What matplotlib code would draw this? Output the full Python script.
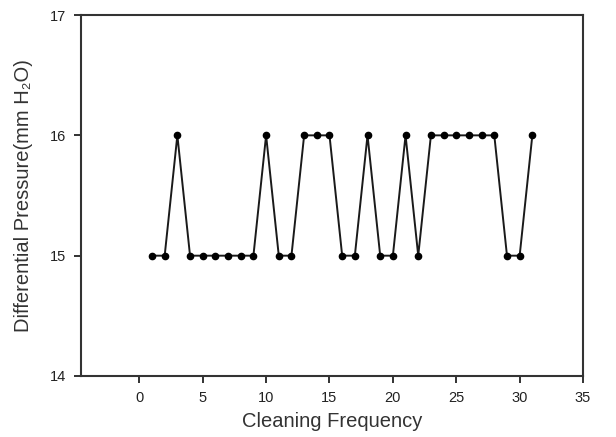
import matplotlib
matplotlib.use("Agg")
import matplotlib.pyplot as plt

# cleaning cycle number vs. differential pressure
cycles = list(range(1, 32))
pressure = [15, 15, 16, 15, 15, 15, 15, 15, 15, 16,
            15, 15, 16, 16, 16, 15, 15, 16, 15, 15,
            16, 15, 16, 16, 16, 16, 16, 16, 15, 15, 16]

x_ticks = [0, 5, 10, 15, 20, 25, 30, 35]
y_ticks = [14, 15, 16, 17]

plt.rcParams["font.family"] = ["Liberation Sans", "DejaVu Sans"]

fig = plt.figure(figsize=(6.16, 4.37), dpi=100)
ax = fig.add_axes([0.1315, 0.1396, 0.815, 0.826])

ax.plot(cycles, pressure, color="#1a1a1a", linewidth=1.4,
        marker="o", markersize=4.5, markerfacecolor="black",
        markeredgecolor="black")

ax.set_xlim(-4.6, 35)
ax.set_ylim(14, 17)
ax.set_xticks(x_ticks)
ax.set_yticks(y_ticks)
ax.tick_params(axis="both", direction="out", length=5, width=1.3,
               colors="#222222", pad=6, labelsize=10.5)

for sp in ax.spines.values():
    sp.set_linewidth(1.5)
    sp.set_color("#333333")

ax.set_xlabel("Cleaning Frequency", fontsize=14.5, color="#333333", labelpad=5)
ax.set_ylabel("Differential Pressure(mm H\u2082O)", fontsize=14.5,
              color="#333333", labelpad=12)

plt.savefig("out.png", dpi=100)
plt.close()
